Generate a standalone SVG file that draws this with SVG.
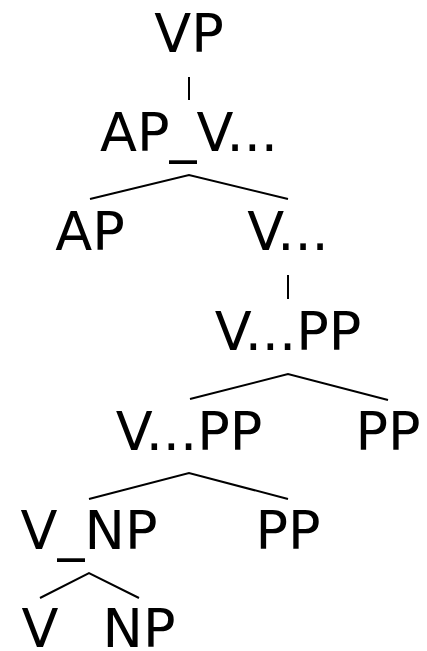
<svg xmlns="http://www.w3.org/2000/svg" width="427" height="651" viewBox="0 0 427 651">
<style>
text{font-family:"DejaVu Sans",sans-serif;font-size:54px;fill:#000;text-anchor:middle}
.e{stroke:#000;stroke-width:2;fill:none}
</style>
<rect width="427" height="651" fill="#fff"/>
<g id="edges">
<line class="e" x1="189" y1="77" x2="189" y2="100"/>
<polyline class="e" points="90,199 189,175 288,199"/>
<line class="e" x1="288" y1="275" x2="288" y2="299"/>
<polyline class="e" points="190,399 288,374 388,400"/>
<polyline class="e" points="89,499 189,473 288,499"/>
<polyline class="e" points="40,598 89,573 139,598"/>
</g>
<g id="n1"><text x="189" y="52">VP</text></g>
<g id="n2"><text x="189" y="151">AP_V...</text></g>
<g id="n3"><text x="90" y="250">AP</text></g>
<g id="n4"><text x="288" y="250">V...</text></g>
<g id="n5"><text x="288" y="350">V...PP</text></g>
<g id="n6"><text x="189" y="450">V...PP</text></g>
<g id="n7"><text x="388" y="450">PP</text></g>
<g id="n8"><text x="89" y="549">V_NP</text></g>
<g id="n9"><text x="288" y="549">PP</text></g>
<g id="n10"><text x="40" y="647">V</text></g>
<g id="n11"><text x="139" y="647">NP</text></g>
</svg>
